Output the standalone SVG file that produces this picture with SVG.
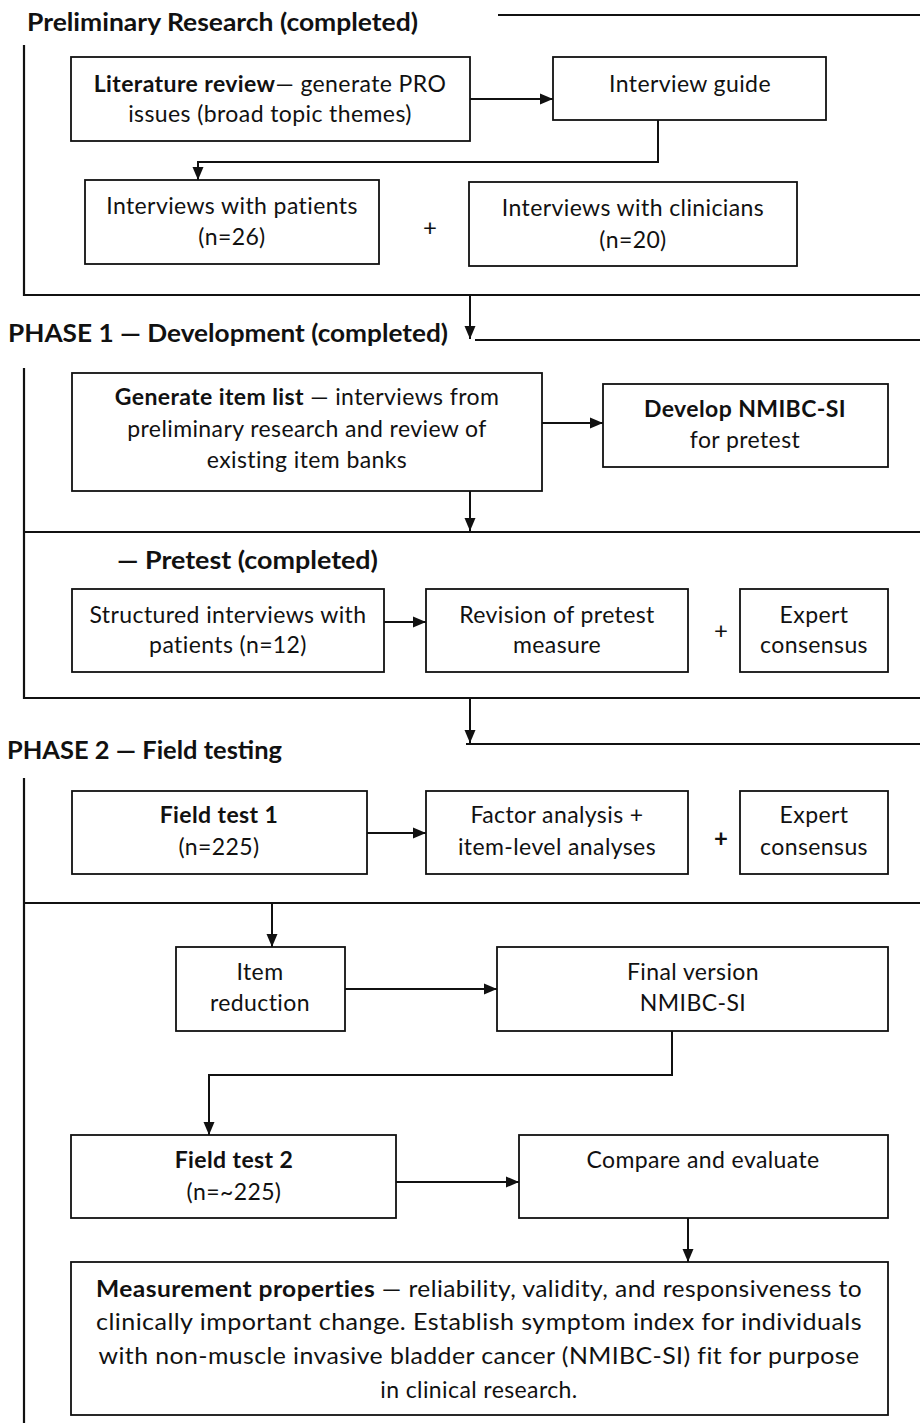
<svg xmlns="http://www.w3.org/2000/svg" width="920" height="1423" viewBox="0 0 920 1423">
<style>
text{font-family:Lato,"Open Sans","Liberation Sans",sans-serif;fill:#111;}
.t{font-size:23px;letter-spacing:0.4px;text-anchor:middle;}
.h{font-size:24px;font-weight:bold;}
.b{font-weight:bold;}
.box{fill:#fff;stroke:#111;stroke-width:1.8;}
.ln{fill:none;stroke:#111;stroke-width:2.2;}
.a{fill:none;stroke:#111;stroke-width:2;marker-end:url(#ah);}
.p{font-size:24px;text-anchor:middle;}
</style>
<defs>
<marker id="ah" markerUnits="userSpaceOnUse" markerWidth="14" markerHeight="14" viewBox="0 0 14 14" refX="13" refY="7" orient="auto">
<path d="M0,1.5 L13,7 L0,12.5 Z" fill="#111"/>
</marker>
</defs>
<rect width="920" height="1423" fill="#fff"/>

<g id="frames">
<line class="ln" x1="498" y1="15" x2="920" y2="15"/>
<path class="ln" d="M24,45 V295 H920"/>
<line class="ln" x1="475" y1="340" x2="920" y2="340"/>
<path class="ln" d="M24,368 V698 H920"/>
<line class="ln" x1="24" y1="532" x2="920" y2="532"/>
<line class="ln" x1="466" y1="744" x2="920" y2="744"/>
<line class="ln" x1="24" y1="778" x2="24" y2="1423"/>
<line class="ln" x1="24" y1="903" x2="920" y2="903"/>
</g>

<g id="titles">
<text class="h" x="27" y="31" textLength="391" lengthAdjust="spacingAndGlyphs">Preliminary Research (completed)</text>
<text class="h" x="8" y="342" textLength="440" lengthAdjust="spacingAndGlyphs">PHASE 1 — Development (completed)</text>
<text class="h" x="117" y="569" textLength="261" lengthAdjust="spacingAndGlyphs">— Pretest (completed)</text>
<text class="h" x="7" y="759" textLength="275" lengthAdjust="spacingAndGlyphs">PHASE 2 — Field testing</text>
</g>

<g id="connectors">
<line class="a" x1="470" y1="99" x2="553" y2="99"/>
<path class="a" d="M658,120 V162 H198 V180"/>
<line class="a" x1="470" y1="295" x2="470" y2="339"/>
<line class="a" x1="542" y1="423" x2="603" y2="423"/>
<line class="a" x1="470" y1="491" x2="470" y2="531"/>
<line class="a" x1="384" y1="622" x2="426" y2="622"/>
<line class="a" x1="470" y1="698" x2="470" y2="743"/>
<line class="a" x1="367" y1="833" x2="426" y2="833"/>
<line class="a" x1="272" y1="903" x2="272" y2="947"/>
<line class="a" x1="345" y1="989" x2="497" y2="989"/>
<path class="a" d="M672,1031 V1075 H209 V1135"/>
<line class="a" x1="396" y1="1182" x2="519" y2="1182"/>
<line class="a" x1="688" y1="1218" x2="688" y2="1262"/>
</g>

<g id="literature-review">
<rect class="box" x="71" y="57" width="399" height="84"/>
<text class="t" x="270" y="92"><tspan class="b">Literature review</tspan>— generate PRO</text>
<text class="t" x="270" y="122">issues (broad topic themes)</text>
</g>
<g id="interview-guide">
<rect class="box" x="553" y="57" width="273" height="63"/>
<text class="t" x="690" y="92">Interview guide</text>
</g>
<g id="interviews-patients">
<rect class="box" x="85" y="180" width="294" height="84"/>
<text class="t" x="232" y="214">Interviews with patients</text>
<text class="t" x="232" y="245">(n=26)</text>
</g>
<text class="p" x="430" y="236">+</text>
<g id="interviews-clinicians">
<rect class="box" x="469" y="182" width="328" height="84"/>
<text class="t" x="633" y="216">Interviews with clinicians</text>
<text class="t" x="633" y="248">(n=20)</text>
</g>

<g id="generate-item-list">
<rect class="box" x="72" y="373" width="470" height="118"/>
<text class="t" x="307" y="405"><tspan class="b">Generate item list</tspan> — interviews from</text>
<text class="t" x="307" y="437">preliminary research and review of</text>
<text class="t" x="307" y="468">existing item banks</text>
</g>
<g id="develop-nmibc-si">
<rect class="box" x="603" y="384" width="285" height="83"/>
<text class="t b" x="745" y="417">Develop NMIBC-SI</text>
<text class="t" x="745" y="448">for pretest</text>
</g>

<g id="structured-interviews">
<rect class="box" x="72" y="589" width="312" height="83"/>
<text class="t" x="228" y="623">Structured interviews with</text>
<text class="t" x="228" y="653">patients (n=12)</text>
</g>
<g id="revision-pretest">
<rect class="box" x="426" y="589" width="262" height="83"/>
<text class="t" x="557" y="623">Revision of pretest</text>
<text class="t" x="557" y="653">measure</text>
</g>
<text class="p" x="721" y="639">+</text>
<g id="expert-consensus-1">
<rect class="box" x="740" y="589" width="148" height="83"/>
<text class="t" x="814" y="623">Expert</text>
<text class="t" x="814" y="653">consensus</text>
</g>

<g id="field-test-1">
<rect class="box" x="72" y="791" width="295" height="83"/>
<text class="t b" x="219" y="823">Field test 1</text>
<text class="t" x="219" y="855">(n=225)</text>
</g>
<g id="factor-analysis">
<rect class="box" x="426" y="791" width="262" height="83"/>
<text class="t" x="557" y="823">Factor analysis +</text>
<text class="t" x="557" y="855">item-level analyses</text>
</g>
<text class="p b" x="721" y="847">+</text>
<g id="expert-consensus-2">
<rect class="box" x="740" y="791" width="148" height="83"/>
<text class="t" x="814" y="823">Expert</text>
<text class="t" x="814" y="855">consensus</text>
</g>

<g id="item-reduction">
<rect class="box" x="176" y="947" width="169" height="84"/>
<text class="t" x="260" y="980">Item</text>
<text class="t" x="260" y="1011">reduction</text>
</g>
<g id="final-version">
<rect class="box" x="497" y="947" width="391" height="84"/>
<text class="t" x="693" y="980">Final version</text>
<text class="t" x="693" y="1011">NMIBC-SI</text>
</g>

<g id="field-test-2">
<rect class="box" x="71" y="1135" width="325" height="83"/>
<text class="t b" x="234" y="1168">Field test 2</text>
<text class="t" x="234" y="1200">(n=~225)</text>
</g>
<g id="compare-evaluate">
<rect class="box" x="519" y="1135" width="369" height="83"/>
<text class="t" x="703" y="1168">Compare and evaluate</text>
</g>

<g id="measurement-properties">
<rect class="box" x="71" y="1262" width="817" height="153"/>
<text class="t" x="479" y="1297" textLength="766" lengthAdjust="spacingAndGlyphs"><tspan class="b">Measurement properties</tspan> — reliability, validity, and responsiveness to</text>
<text class="t" x="479" y="1330" textLength="766" lengthAdjust="spacingAndGlyphs">clinically important change. Establish symptom index for individuals</text>
<text class="t" x="479" y="1364" textLength="761" lengthAdjust="spacingAndGlyphs">with non-muscle invasive bladder cancer (NMIBC-SI) fit for purpose</text>
<text class="t" x="479" y="1398">in clinical research.</text>
</g>
</svg>
